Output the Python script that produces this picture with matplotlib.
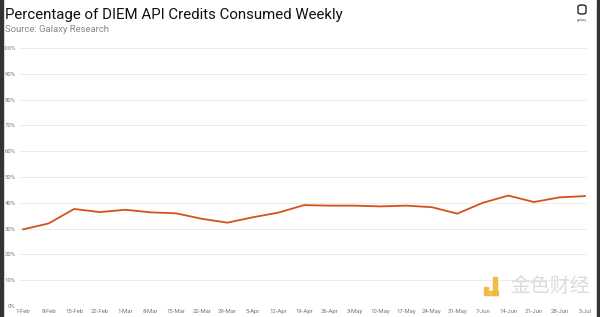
import numpy as np
import matplotlib
matplotlib.use('Agg')
import matplotlib.pyplot as plt
from matplotlib.patches import Rectangle, FancyBboxPatch

weeks = ['1-Feb', '8-Feb', '15-Feb', '22-Feb', '1-Mar', '8-Mar', '15-Mar', '22-Mar',
         '29-Mar', '5-Apr', '12-Apr', '19-Apr', '26-Apr', '3-May', '10-May', '17-May',
         '24-May', '31-May', '7-Jun', '14-Jun', '21-Jun', '28-Jun', '5-Jul']
pct_consumed = [29.7, 32.0, 37.6, 36.4, 37.3, 36.3, 35.9, 33.8,
                32.3, 34.4, 36.2, 39.1, 38.9, 38.9, 38.6, 38.9,
                38.3, 35.8, 40.0, 42.8, 40.3, 42.1, 42.6]
y_ticks = list(range(0, 101, 10))

title = 'Percentage of DIEM API Credits Consumed Weekly'
source = 'Source: Galaxy Research'

line_color = '#d4521a'
tick_color = '#777777'
logo_yellow = '#f2b636'

plt.rcParams['font.family'] = ['Roboto', 'DejaVu Sans']

fig = plt.figure(figsize=(6.0, 3.17), dpi=100)
ax = fig.add_axes([20 / 600, 11 / 317, 567 / 600, 258 / 317])

x = np.arange(len(weeks))
ax.plot(x, pct_consumed, color=line_color, lw=1.3, solid_joinstyle='miter')

ax.set_xlim(-0.12, len(weeks) - 1 + 0.08)
ax.set_ylim(0, 100)
ax.set_yticks(y_ticks)
ax.set_yticklabels(['%d%%' % v for v in y_ticks])
ax.set_xticks(x)
ax.set_xticklabels(weeks)
ax.tick_params(length=0, labelsize=4.3, colors=tick_color, pad=3)
ax.tick_params(axis='x', pad=2)
ax.grid(axis='y', color='#ececec', lw=0.7)
ax.set_axisbelow(True)
for s in ax.spines.values():
    s.set_visible(False)

# header
fig.text(5 / 600, 1 - 15 / 317, title, fontsize=10.8, color='#111111', va='center')
fig.text(5 / 600, 1 - 30 / 317, source, fontsize=6.8, color='#888888', va='center')

# galaxy logo
fig.patches.append(FancyBboxPatch((578 / 600, 1 - 14 / 317), 8 / 600, 9 / 317,
                                  boxstyle='round,pad=0,rounding_size=0.006',
                                  transform=fig.transFigure, fill=False,
                                  ec='#222222', lw=1.0))
fig.text(582 / 600, 1 - 19.5 / 317, 'galaxy', fontsize=2.5, color='#555555',
         ha='center', va='center')

# watermark
fig.patches.append(Rectangle((493 / 600, 1 - 295 / 317), 4.5 / 600, 18 / 317,
                             transform=fig.transFigure, color=logo_yellow, alpha=0.9))
fig.patches.append(Rectangle((484 / 600, 1 - 295 / 317), 13.5 / 600, 4 / 317,
                             transform=fig.transFigure, color=logo_yellow, alpha=0.9))
fig.patches.append(Rectangle((484 / 600, 1 - 290 / 317), 3.5 / 600, 3.5 / 317,
                             transform=fig.transFigure, color=logo_yellow, alpha=0.9))
fig.text(510 / 600, 1 - 286 / 317, '金色财经', fontsize=14.3, color='#dcdcdc',
         family=['Noto Sans CJK SC', 'DejaVu Sans'], va='center')

# dark edges
fig.patches.append(Rectangle((0, 0), 2.5 / 600, 1, transform=fig.transFigure,
                             color='#333333'))
fig.patches.append(Rectangle((597 / 600, 0), 3 / 600, 1, transform=fig.transFigure,
                             color='#333333'))

fig.savefig('out.png', dpi=100)
